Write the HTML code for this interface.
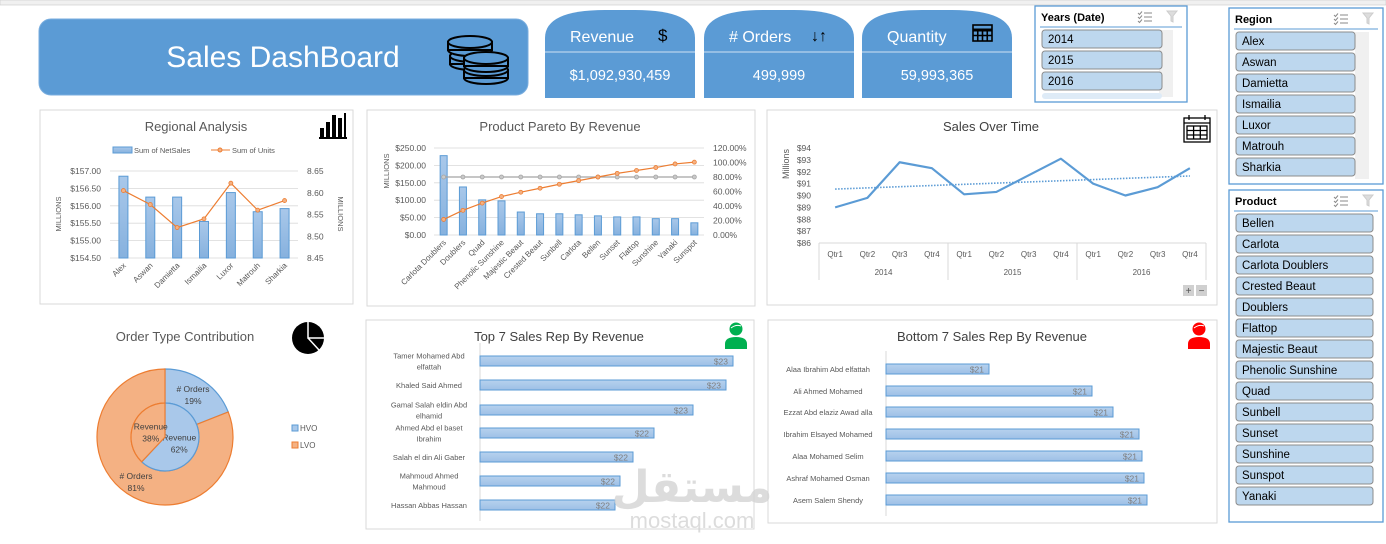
<!DOCTYPE html>
<html><head><meta charset="utf-8"><style>
html,body{margin:0;padding:0;background:#fff;width:1386px;height:544px;overflow:hidden}
svg{display:block;font-family:"Liberation Sans",sans-serif}
</style></head><body>
<svg id="s" width="1386" height="544" viewBox="0 0 1386 544" xmlns="http://www.w3.org/2000/svg">
<defs>
<linearGradient id="bg" x1="0" y1="0" x2="0" y2="1"><stop offset="0" stop-color="#a9c8ea"/><stop offset="1" stop-color="#86b1de"/></linearGradient>
<linearGradient id="hg" x1="0" y1="0" x2="0" y2="1"><stop offset="0" stop-color="#b7d2ee"/><stop offset="1" stop-color="#9dbfe6"/></linearGradient>
</defs>
<rect x="0" y="0" width="1386" height="5" fill="#f0f0f0" stroke="#c8c8c8" stroke-width="0.6"/>

<g>
<rect x="39" y="19" width="489" height="76" rx="12" fill="#5b9bd5" stroke="#7aaedf"/>
<text x="283" y="67" font-size="30" fill="#fff" text-anchor="middle">Sales DashBoard</text>
<g fill="#5b9bd5" stroke="#000" stroke-width="2">
<ellipse cx="472" cy="64" rx="22" ry="6"/><rect x="450" y="56" width="44" height="8"/><ellipse cx="472" cy="56" rx="22" ry="6"/>
<ellipse cx="470" cy="50" rx="22" ry="6"/><rect x="448" y="42" width="44" height="8"/><ellipse cx="470" cy="42" rx="22" ry="6"/>
<ellipse cx="486" cy="78" rx="22" ry="6"/><rect x="464" y="70" width="44" height="8"/><ellipse cx="486" cy="70" rx="22" ry="6"/>
<ellipse cx="486" cy="66" rx="22" ry="6"/><rect x="464" y="58" width="44" height="8"/><ellipse cx="486" cy="58" rx="22" ry="6"/>
</g>
</g>

<g id="kpis"></g>
<g id="slicers"></g>

<rect x="40" y="110" width="313" height="194" fill="#fff" stroke="#d9d9d9"/>
<rect x="367" y="110" width="388" height="196" fill="#fff" stroke="#d9d9d9"/>
<rect x="767" y="110" width="450" height="195" fill="#fff" stroke="#d9d9d9"/>
<rect x="366" y="320" width="388" height="209" fill="#fff" stroke="#d9d9d9"/>
<rect x="768" y="320" width="449" height="203" fill="#fff" stroke="#d9d9d9"/>

<g id="regional"></g>
<g id="pareto"></g>
<g id="time"></g>
<g id="donut"></g>
<g id="top7"></g>
<g id="bot7"></g>

<g fill="#d4d4d4" opacity="0.8">
<text x="692" y="502" font-size="44" font-weight="bold" text-anchor="middle" font-family="'Liberation Sans','DejaVu Sans',sans-serif">مستقل</text>
<text x="692" y="528" font-size="22" text-anchor="middle">mostaql.com</text>
</g>
</svg>
<script>
const NS="http://www.w3.org/2000/svg";
function mk(p,tag,a,txt){const e=document.createElementNS(NS,tag);for(const k in a)e.setAttribute(k,a[k]);if(txt!==undefined)e.textContent=txt;p.appendChild(e);return e;}
const G=id=>document.getElementById(id);

const kpiTitles=["Revenue","# Orders","Quantity"];
const kpiValues=["$1,092,930,459","499,999","59,993,365"];
const years=["2014","2015","2016"];
const regions=["Alex","Aswan","Damietta","Ismailia","Luxor","Matrouh","Sharkia"];
const products=["Bellen","Carlota","Carlota Doublers","Crested Beaut","Doublers","Flattop","Majestic Beaut","Phenolic Sunshine","Quad","Sunbell","Sunset","Sunshine","Sunspot","Yanaki"];
const regionNames=["Alex","Aswan","Damietta","Ismailia","Luxor","Matrouh","Sharkia"];
const regionSales=[156.85,156.25,156.25,155.55,156.38,155.83,155.92];
const regionUnits=[8.605,8.573,8.52,8.54,8.622,8.56,8.582];
const regionLeftTicks=["$154.50","$155.00","$155.50","$156.00","$156.50","$157.00"];
const regionRightTicks=["8.45","8.50","8.55","8.60","8.65"];
const paretoCats=["Carlota Doublers","Doublers","Quad","Phenolic Sunshine","Majestic Beaut","Crested Beaut","Sunbell","Carlota","Bellen","Sunset","Flattop","Sunshine","Yanaki","Sunspot"];
const paretoRevenue=[228,138,101,98,66,61,61,58,55,52,52,47,47,35];
const paretoCumPct=[21.5,34,44,53,59,64.5,70,75,80,85,89,93,98,100.5];
const paretoThreshold=80;
const paretoLeftTicks=["$0.00","$50.00","$100.00","$150.00","$200.00","$250.00"];
const paretoRightTicks=["0.00%","20.00%","40.00%","60.00%","80.00%","100.00%","120.00%"];
const quarters=["Qtr1","Qtr2","Qtr3","Qtr4","Qtr1","Qtr2","Qtr3","Qtr4","Qtr1","Qtr2","Qtr3","Qtr4"];
const quarterYears=["2014","2015","2016"];
const quarterSales=[89.0,89.8,92.8,92.3,90.1,90.3,91.7,93.1,91.0,90.0,90.7,92.3];
const timeTicks=["$86","$87","$88","$89","$90","$91","$92","$93","$94"];
const orderTypes=["HVO","LVO"];
const ordersShare=[19,81];
const revenueShare=[62,38];
const topReps=["Tamer Mohamed Abd|elfattah","Khaled Said Ahmed","Gamal Salah eldin Abd|elhamid","Ahmed Abd el baset|Ibrahim","Salah el din Ali Gaber","Mahmoud Ahmed|Mahmoud","Hassan Abbas Hassan"];
const topRevenue=[22.765,22.73,22.565,22.37,22.265,22.2,22.175];
const botReps=["Alaa Ibrahim Abd elfattah","Ali Ahmed Mohamed","Ezzat Abd elaziz Awad alla","Ibrahim Elsayed Mohamed","Alaa Mohamed Selim","Ashraf Mohamed Osman","Asem Salem Shendy"];
const botRevenue=[20.8575,21.115,21.1675,21.2325,21.24,21.245,21.2525];

const gray="#595959", lgray="#d9d9d9";

{const g=G("kpis");const xs=[545,704,862];const icons=["$","\u2193\u2191",""];
kpiTitles.forEach((t,i)=>{const x=xs[i];
 const c=mk(g,"g",{});
 
 
 mk(c,"path",{d:`M${x},98 V38 Q${x},10 ${x+60},10 H${x+90} Q${x+150},10 ${x+150},38 V98 Z`,fill:"#5b9bd5"});
 mk(c,"line",{x1:x,y1:52,x2:x+150,y2:52,stroke:"#cfe0f2","stroke-width":1});
 mk(c,"text",{x:x+25,y:42,"font-size":16,fill:"#fff"},t);
 if(i<2) mk(c,"text",{x:x+(i==0?113:107),y:41,"font-size":i==0?17:16,fill:"#000"},icons[i]);
 else {const ig=mk(c,"g",{fill:"none",stroke:"#000","stroke-width":1.6});mk(ig,"rect",{x:x+111,y:25,width:19,height:16});mk(ig,"line",{x1:x+111,y1:30,x2:x+130,y2:30,"stroke-width":3});
  for(let k=1;k<4;k++)mk(ig,"line",{x1:x+111+k*4.75,y1:30,x2:x+111+k*4.75,y2:41});mk(ig,"line",{x1:x+111,y1:35.5,x2:x+130,y2:35.5});}
 mk(c,"text",{x:x+75,y:80,"font-size":14.5,fill:"#fff","text-anchor":"middle"},kpiValues[i]);
});}

function slicer(name,x,y,w,h,title,items,itemW,scroll){
 const g=mk(G("slicers"),"g",{});
 
 
 mk(g,"rect",{x,y,width:w,height:h,fill:"#fff",stroke:"#5b9bd5","stroke-width":1.3});
 mk(g,"text",{x:x+6,y:y+15,"font-size":11,"font-weight":"bold",fill:"#000"},title);
 const ic=mk(g,"g",{stroke:"#8a8a8a","stroke-width":1,fill:"none"});
 for(let k=0;k<3;k++){mk(ic,"line",{x1:x+w-43,y1:y+7+k*4,x2:x+w-35,y2:y+7+k*4});mk(ic,"path",{d:`M${x+w-49},${y+7+k*4} l1.5,1.5 l2.5,-3`});}
 mk(ic,"path",{d:`M${x+w-20},${y+5} h10 l-4,5 v6 l-2,-1 v-5 z`,fill:"#ddd",stroke:"#ccc"});
 mk(g,"line",{x1:x+5,y1:y+21,x2:x+w-5,y2:y+21,stroke:"#5b9bd5"});
 if(scroll) mk(g,"rect",{x:x+w-28,y:y+24,width:14,height:h-29,fill:"#f0f0f0"});
 items.forEach((it,i)=>{
  const b=mk(g,"g",{});
  
  
  mk(b,"rect",{x:x+7,y:y+24+i*21,width:itemW,height:18,rx:3,fill:"#bdd7ee",stroke:"#8c8c8c"});
  mk(b,"text",{x:x+13,y:y+37+i*21,"font-size":11.5,fill:"#000"},it);
 });
 return g;
}
{const g=slicer("years-slicer",1035,6,152,96,"Years (Date)",years,120,true);
 mk(g,"rect",{x:1042,y:93,width:120,height:6,rx:3,fill:"#deebf7"});}
slicer("region-slicer",1229,8,154,176,"Region",regions,119,true);
slicer("product-slicer",1229,190,154,332,"Product",products,137,false);

{const g=G("regional");
 mk(g,"text",{x:196,y:131,"font-size":13,fill:gray,"text-anchor":"middle"},"Regional Analysis");
 const ic=mk(g,"g",{fill:"#000"});
 [[320,128,4,9],[326,122,4,15],[332,115,4,22],[338,118,4,19]].forEach(r=>mk(ic,"rect",{x:r[0],y:r[1],width:r[2],height:r[3]}));
 mk(ic,"rect",{x:319,y:137,width:28,height:2});mk(ic,"rect",{x:344,y:113,width:2,height:25});
 const lg=mk(g,"g",{});
 mk(lg,"rect",{x:113,y:147,width:19,height:6,fill:"url(#bg)",stroke:"#5b9bd5"});
 mk(lg,"text",{x:134,y:153,"font-size":7.5,fill:gray},"Sum of NetSales");
 mk(lg,"line",{x1:211,y1:150,x2:230,y2:150,stroke:"#ed7d31"});mk(lg,"circle",{cx:220,cy:150,r:2,fill:"#f4b183",stroke:"#ed7d31"});
 mk(lg,"text",{x:232,y:153,"font-size":7.5,fill:gray},"Sum of Units");
 const x0=110,x1=298,yT=171,yB=258;
 const yL=v=>yB-(v-154.5)/(157-154.5)*(yB-yT), yR=v=>yB-(v-8.45)/(0.2)*(yB-yT);
 regionLeftTicks.forEach(t=>{const v=parseFloat(t.slice(1));const y=yL(v);
  mk(g,"line",{x1:x0,y1:y,x2:x1,y2:y,stroke:lgray,"stroke-width":0.8});
  mk(g,"text",{x:101,y:y+3,"font-size":8.5,fill:gray,"text-anchor":"end"},t);});
 regionRightTicks.forEach(t=>{mk(g,"text",{x:307,y:yR(parseFloat(t))+3,"font-size":8.5,fill:gray},t);});
 mk(g,"text",{x:0,y:0,"font-size":7.5,fill:gray,"text-anchor":"middle",transform:"translate(61,214) rotate(-90)"},"MILLIONS");
 mk(g,"text",{x:0,y:0,"font-size":7.5,fill:gray,"text-anchor":"middle",transform:"translate(338,214) rotate(90)"},"MILLIONS");
 const step=(x1-x0)/regionNames.length;let pts=[];
 regionNames.forEach((n,i)=>{const cx=x0+step*(i+0.5);const y=yL(regionSales[i]);
  const b=mk(g,"rect",{x:cx-4.5,y:y,width:9,height:yB-y,fill:"url(#bg)",stroke:"#5b9bd5","stroke-width":1});
  
  mk(g,"text",{x:0,y:0,"font-size":8,fill:gray,"text-anchor":"end",transform:`translate(${cx+3},${yB+8}) rotate(-45)`},n);
  pts.push([cx,yR(regionUnits[i])]);});
 mk(g,"polyline",{points:pts.map(p=>p.join(",")).join(" "),fill:"none",stroke:"#ed7d31","stroke-width":1.2});
 pts.forEach(p=>mk(g,"circle",{cx:p[0],cy:p[1],r:2,fill:"#f4b183",stroke:"#ed7d31","stroke-width":0.8}));
}

{const g=G("pareto");
 mk(g,"text",{x:560,y:131,"font-size":13,fill:gray,"text-anchor":"middle"},"Product Pareto By Revenue");
 const x0=434,x1=704,yT=148,yB=235;
 const yL=v=>yB-v/250*(yB-yT), yR=v=>yB-v/120*(yB-yT);
 paretoLeftTicks.forEach(t=>{const v=parseFloat(t.slice(1));const y=yL(v);
  mk(g,"line",{x1:x0,y1:y,x2:x1,y2:y,stroke:lgray,"stroke-width":0.8});
  mk(g,"text",{x:426,y:y+3,"font-size":8.5,fill:gray,"text-anchor":"end"},t);});
 paretoRightTicks.forEach(t=>mk(g,"text",{x:713,y:yR(parseFloat(t))+3,"font-size":8.5,fill:gray},t));
 mk(g,"text",{x:0,y:0,"font-size":7.5,fill:gray,"text-anchor":"middle",transform:"translate(389,171) rotate(-90)"},"MILLIONS");
 const step=(x1-x0)/paretoCats.length;let pc=[],pt=[];
 paretoCats.forEach((n,i)=>{const cx=x0+step*(i+0.5);const y=yL(paretoRevenue[i]);
  const b=mk(g,"rect",{x:cx-3.5,y:y,width:7,height:yB-y,fill:"url(#bg)",stroke:"#5b9bd5","stroke-width":1});
  
  mk(g,"text",{x:0,y:0,"font-size":8,fill:gray,"text-anchor":"end",transform:`translate(${cx+3},${yB+8}) rotate(-45)`},n);
  pc.push([cx,yR(paretoCumPct[i])]);pt.push([cx,yR(paretoThreshold)]);});
 mk(g,"polyline",{points:pt.map(p=>p.join(",")).join(" "),fill:"none",stroke:"#a5a5a5","stroke-width":1.2});
 pt.forEach(p=>mk(g,"circle",{cx:p[0],cy:p[1],r:2,fill:"#c9c9c9",stroke:"#a5a5a5","stroke-width":0.8}));
 mk(g,"polyline",{points:pc.map(p=>p.join(",")).join(" "),fill:"none",stroke:"#ed7d31","stroke-width":1.2});
 pc.forEach(p=>mk(g,"circle",{cx:p[0],cy:p[1],r:2,fill:"#f4b183",stroke:"#ed7d31","stroke-width":0.8}));
}

{const g=G("time");
 mk(g,"text",{x:991,y:131,"font-size":13,fill:"#404040","text-anchor":"middle"},"Sales Over Time");
 const ic=mk(g,"g",{fill:"none",stroke:"#000","stroke-width":1.3});
 mk(ic,"rect",{x:1184,y:118,width:26,height:24});mk(ic,"line",{x1:1184,y1:123,x2:1210,y2:123});
 mk(ic,"rect",{x:1187,y:126,width:20,height:13});mk(ic,"line",{x1:1187,y1:130.5,x2:1207,y2:130.5});mk(ic,"line",{x1:1187,y1:135,x2:1207,y2:135});
 mk(ic,"line",{x1:1193.6,y1:126,x2:1193.6,y2:139});mk(ic,"line",{x1:1200.3,y1:126,x2:1200.3,y2:139});
 mk(ic,"line",{x1:1189,y1:115,x2:1189,y2:120});mk(ic,"line",{x1:1205,y1:115,x2:1205,y2:120});
 const x0=819,x1=1206,yT=148,yB=243;const y=v=>yB-(v-86)/8*(yB-yT);
 timeTicks.forEach(t=>{const v=parseFloat(t.slice(1));mk(g,"text",{x:811,y:y(v)+3,"font-size":8.5,fill:gray,"text-anchor":"end"},t);});
 mk(g,"text",{x:0,y:0,"font-size":9,fill:gray,"text-anchor":"middle",transform:"translate(789,164) rotate(-90)"},"Millions");
 mk(g,"line",{x1:x0,y1:yB,x2:x1,y2:yB,stroke:lgray});
 const step=(x1-x0)/quarters.length;
 [0,4,8,12].forEach(k=>mk(g,"line",{x1:x0+k*step,y1:yB,x2:x0+k*step,y2:280,stroke:lgray}));
 quarters.forEach((q,i)=>mk(g,"text",{x:x0+step*(i+0.5),y:257,"font-size":8,fill:gray,"text-anchor":"middle"},q));
 quarterYears.forEach((yy,i)=>mk(g,"text",{x:x0+step*(4*i+2),y:275,"font-size":8,fill:gray,"text-anchor":"middle"},yy));
 const pts=quarterSales.map((v,i)=>[x0+step*(i+0.5),y(v)]);
 const n=quarterSales.length,mx=(n-1)/2,my=quarterSales.reduce((a,b)=>a+b)/n;let sxy=0,sxx=0;
 quarterSales.forEach((v,i)=>{sxy+=(i-mx)*(v-my);sxx+=(i-mx)*(i-mx);});const sl=sxy/sxx;
 const tr=mk(g,"line",{x1:pts[0][0],y1:y(my-sl*mx),x2:pts[n-1][0],y2:y(my+sl*mx),stroke:"#5b9bd5","stroke-width":1.6,"stroke-dasharray":"1.5,1.5"});
 
 const l=mk(g,"polyline",{points:pts.map(p=>p.join(",")).join(" "),fill:"none",stroke:"#5b9bd5","stroke-width":2.2,"stroke-linejoin":"round"});
 
 const pb=mk(g,"g",{});
 mk(pb,"rect",{x:1183,y:285,width:11,height:11,fill:"#d0d0d0"});mk(pb,"rect",{x:1196,y:285,width:11,height:11,fill:"#d0d0d0"});
 mk(pb,"text",{x:1188.5,y:294,"font-size":10,fill:"#555","text-anchor":"middle"},"+");mk(pb,"text",{x:1201.5,y:294,"font-size":10,fill:"#555","text-anchor":"middle"},"−");
}

{const g=G("donut");
 mk(g,"text",{x:185,y:341,"font-size":13,fill:gray,"text-anchor":"middle"},"Order Type Contribution");
 const ic=mk(g,"g",{});
 mk(ic,"circle",{cx:308,cy:338,r:16,fill:"#000"});
 mk(ic,"path",{d:"M308,322 V338 H324 M308,338 L319,350",stroke:"#fff","stroke-width":1.5,fill:"none"});
 const cx=165,cy=437,R=68,r=34;
 const fills=["#a9c8ea","#f4b183"],strokes=["#5b9bd5","#ed7d31"];
 const P=(a,rad)=>[cx+rad*Math.sin(a),cy-rad*Math.cos(a)];
 function arc(a0,a1,ri,ro){const big=(a1-a0)>Math.PI?1:0;const p0=P(a0,ro),p1=P(a1,ro);
  if(ri===0)return `M${cx},${cy} L${p0} A${ro},${ro} 0 ${big} 1 ${p1} Z`;
  const q1=P(a1,ri),q0=P(a0,ri);return `M${p0} A${ro},${ro} 0 ${big} 1 ${p1} L${q1} A${ri},${ri} 0 ${big} 0 ${q0} Z`;}
 let a=0;const tot1=ordersShare.reduce((x,y)=>x+y);
 const oLab=[[193,392],[136,479]];
 ordersShare.forEach((v,i)=>{const a1=a+v/tot1*2*Math.PI;
  const s=mk(g,"path",{d:arc(a,a1,r,R),fill:fills[i],stroke:strokes[i],"stroke-width":1.2});
  
  mk(g,"text",{x:oLab[i][0],y:oLab[i][1],"font-size":8.5,fill:"#404040","text-anchor":"middle"},"# Orders");
  mk(g,"text",{x:oLab[i][0],y:oLab[i][1]+12,"font-size":8.5,fill:"#404040","text-anchor":"middle"},v+"%");
  a=a1;});
 a=0;const tot2=revenueShare.reduce((x,y)=>x+y);
 revenueShare.forEach((v,i)=>{const a1=a+v/tot2*2*Math.PI;
  const s=mk(g,"path",{d:arc(a,a1,0,r),fill:fills[i],stroke:strokes[i],"stroke-width":1.2});
  
  const m=(a+a1)/2,lp=P(m,r*0.45);
  mk(g,"text",{x:lp[0],y:lp[1]-2,"font-size":8.5,fill:"#404040","text-anchor":"middle"},"Revenue");
  mk(g,"text",{x:lp[0],y:lp[1]+10,"font-size":8.5,fill:"#404040","text-anchor":"middle"},v+"%");
  a=a1;});
 orderTypes.forEach((t,i)=>{const lg=mk(g,"g",{});
  mk(lg,"rect",{x:292,y:425+i*17,width:6,height:6,fill:fills[i],stroke:strokes[i]});
  mk(lg,"text",{x:300,y:431+i*17,"font-size":8,fill:gray},t);});
}

function ranking(gid,title,tx,names,vals,xStart,vMin,k,yc,labelX,icColor,icX){
 const g=G(gid);
 mk(g,"text",{x:tx,y:341,"font-size":13,fill:"#404040","text-anchor":"middle"},title);
 const ic=mk(g,"g",{fill:icColor});
 mk(ic,"circle",{cx:icX,cy:329,r:6.5});mk(ic,"path",{d:`M${icX-11},349 v-5 q0,-7 11,-7 q11,0 11,7 v5 z`});
 mk(ic,"path",{d:`M${icX-5},328 q5,-4 10,-2`,stroke:"#fff","stroke-width":1,fill:"none"});
 mk(g,"line",{x1:xStart,y1:yc[0]-18,x2:xStart,y2:yc[yc.length-1]+16,stroke:lgray});
 names.forEach((n,i)=>{const w=(vals[i]-vMin)*k;const y=yc[i];
  const b=mk(g,"rect",{x:xStart,y:y-5,width:w,height:10,fill:"url(#hg)",stroke:"#5b9bd5","stroke-width":1});
  
  mk(g,"text",{x:xStart+w-5,y:y+3.5,"font-size":8.5,fill:"#7f7f7f","text-anchor":"end"},"$"+Math.round(vals[i]));
  const parts=n.split("|");
  parts.forEach((p,j)=>mk(g,"text",{x:labelX,y:y+3+(parts.length>1?(j-0.5)*11:0),"font-size":7.5,fill:gray,"text-anchor":"middle"},p));
 });
}
ranking("top7","Top 7 Sales Rep By Revenue",559,topReps,topRevenue,480,21.5,200,[361,385,410,433,457,481,505],429,"#00b050",736);
ranking("bot7","Bottom 7 Sales Rep By Revenue",992,botReps,botRevenue,886,20.6,400,[369,391,412,434,456,478,500],828,"#ff0000",1199);
</script>
</body></html>
